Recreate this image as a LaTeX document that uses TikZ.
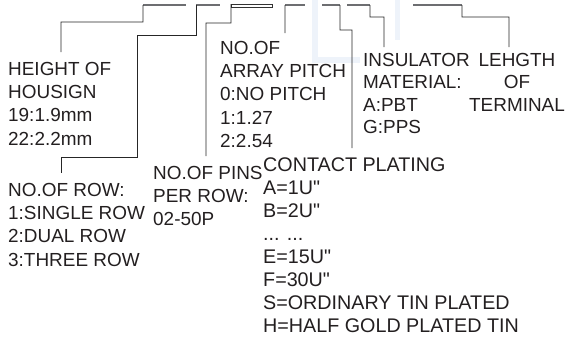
\documentclass[tikz,border=0pt]{standalone}
\usepackage{fontspec}
\setmainfont{Liberation Sans}[Ligatures=TeXOff]
\usepackage{xcolor}
\usetikzlibrary{positioning}
\definecolor{txt}{HTML}{231F20}
\definecolor{barg}{HTML}{6D6E71}
\definecolor{wmark}{HTML}{EEF3FA}

\begin{document}
\begin{tikzpicture}[x=1bp,y=-1bp,
  codetext/.style={anchor=north west,inner sep=0pt,align=left,text=txt,
    font=\fontsize{19}{23.3}\selectfont},
  bar/.style={draw=barg,line width=2.2bp},
  wire/.style={draw=black!85,line width=0.9bp}]
\useasboundingbox (0,0) rectangle (569,337);

% faint watermark
\fill[wmark] (312,0) rectangle (318,63);
\fill[wmark] (312,57) rectangle (360,63);
\fill[wmark] (395,0) rectangle (400,40);

% text blocks
\node[codetext] (hgt) at (8,62) {HEIGHT OF\\HOUSIGN\\19:1.9mm\\22:2.2mm};
\node[codetext] (row) at (8,183) {NO.OF ROW:\\1:SINGLE ROW\\2:DUAL ROW\\3:THREE ROW};
\node[codetext] (pins) at (153,166) {NO.OF PINS\\PER ROW:\\02-50P};
\node[codetext] (pitch) at (220,41) {NO.OF\\ARRAY PITCH\\0:NO PITCH\\1:1.27\\2:2.54};
\node[codetext,font=\fontsize{19.8}{23}\selectfont] (plat) at (263,158) {CONTACT PLATING\\A=1U"\\B=2U"\\... ...\\E=15U"\\F=30U"\\S=ORDINARY TIN PLATED\\H=HALF GOLD PLATED TIN};
\node[codetext,font=\fontsize{19}{22.6}\selectfont] (ins) at (363,53) {INSULATOR\\MATERIAL:\\A:PBT\\G:PPS};
\node[codetext,anchor=north,align=center,font=\fontsize{19}{22.6}\selectfont] (term) at (517,53) {LEHGTH\\OF\\TERMINAL};

% bars under the code
\draw[bar] (143,5) coordinate (b1) -- (186,5);
\draw[bar] (196,5) coordinate (b2) -- (220,5);
\draw[draw=black!80,line width=0.7bp] (231,4) coordinate (b3) rectangle (272,7.5);
\draw[bar] (285,5) coordinate (b4) -- (305,5);
\draw[bar] (322,5) -- (340,5) coordinate (b5);
\draw[bar] (347,5) -- (370,5) coordinate (b6);
\draw[bar] (413,5) -- (462,5) coordinate (b7);

% wires
\draw[wire] (b1) |- (61,22) -- ([xshift=53bp,yshift=10bp]hgt.north west);
\draw[wire] (b2) |- (137,35) -- (137,157) -| ([xshift=53bp,yshift=10bp]row.north west);
\draw[wire] (b3) |- (206,23) -- ([xshift=53bp,yshift=10bp]pins.north west);
\draw[wire] (b4) -- ([xshift=65bp,yshift=8bp]pitch.north west);
\draw[wire] (b5) |- (352,30) -- ([xshift=89bp,yshift=10bp]plat.north west);
\draw[wire] (b6) |- (384,17) -- ([xshift=21bp,yshift=6bp]ins.north west);
\draw[wire] (b7) |- (509,17) -- ([xshift=-8bp,yshift=6bp]term.north);

\end{tikzpicture}
\end{document}
